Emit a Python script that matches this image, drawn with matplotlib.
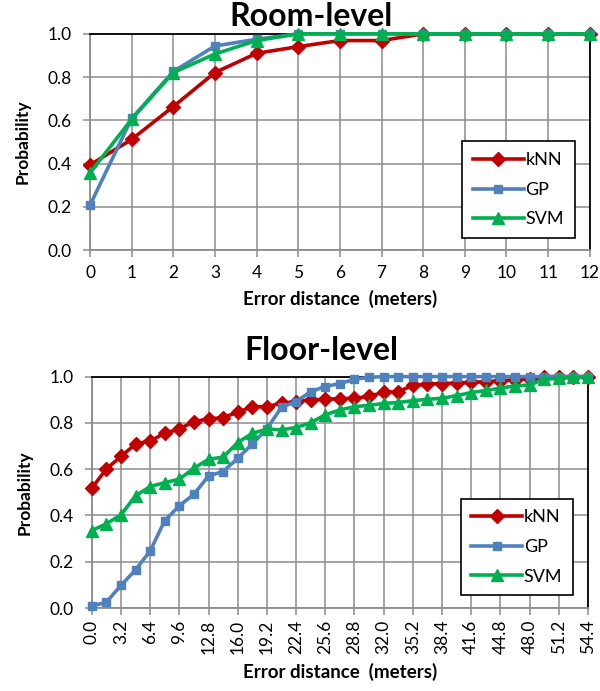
import numpy as np
import matplotlib
matplotlib.use("Agg")
import matplotlib.pyplot as plt

plt.rcParams['font.family'] = ['Lato', 'DejaVu Sans']

# Room-level data (error distance in meters, 0..12)
room_x = list(range(0, 13))
room_knn = [0.394, 0.512, 0.664, 0.821, 0.910, 0.941, 0.969, 0.969, 1.0, 1.0, 1.0, 1.0, 1.0]
room_gp = [0.208, 0.609, 0.826, 0.944, 0.975, 1.0, 1.0, 1.0, 1.0, 1.0, 1.0, 1.0, 1.0]
room_svm = [0.358, 0.605, 0.821, 0.907, 0.969, 1.0, 1.0, 1.0, 1.0, 1.0, 1.0, 1.0, 1.0]

# Floor-level data (error distance 0.0..54.4 step 1.6)
floor_x = [round(1.6 * i, 1) for i in range(35)]
floor_knn = [0.518, 0.601, 0.655, 0.709, 0.722, 0.755, 0.774, 0.806, 0.817,
             0.823, 0.846, 0.870, 0.870, 0.885, 0.892, 0.899, 0.902, 0.905,
             0.906, 0.915, 0.932, 0.935, 0.962, 0.968, 0.970, 0.972, 0.975,
             0.978, 0.982, 0.986, 0.990, 1.0, 1.0, 1.0, 1.0]
floor_gp = [0.008, 0.026, 0.098, 0.165, 0.247, 0.378, 0.442, 0.492, 0.571,
            0.590, 0.647, 0.709, 0.775, 0.868, 0.892, 0.935, 0.957, 0.970,
            0.988, 0.997, 1.0, 1.0, 1.0, 1.0, 1.0, 1.0, 1.0, 1.0, 1.0, 1.0,
            1.0, 1.0, 1.0, 1.0, 1.0]
floor_svm = [0.335, 0.364, 0.403, 0.485, 0.525, 0.542, 0.557, 0.604, 0.643,
             0.652, 0.715, 0.755, 0.773, 0.770, 0.780, 0.801, 0.835, 0.856,
             0.870, 0.876, 0.884, 0.888, 0.896, 0.902, 0.906, 0.918, 0.931,
             0.940, 0.950, 0.960, 0.964, 0.988, 0.993, 0.997, 0.997]

series = [("kNN", "#C00000", "D", 7), ("GP", "#4F81BD", "s", 6), ("SVM", "#00B050", "^", 8)]
grid_color = "#8c8c8c"


def style_axes(ax):
    ax.set_ylim(0, 1.0)
    ax.set_yticks(np.arange(0, 1.01, 0.2))
    ax.set_yticklabels([f"{v:.1f}" for v in np.arange(0, 1.01, 0.2)], fontsize=12.5)
    ax.grid(True, color=grid_color, linewidth=1.1)
    ax.set_axisbelow(True)
    for side in ("left", "bottom"):
        ax.spines[side].set_color(grid_color)
        ax.spines[side].set_linewidth(1.3)
    for side in ("top", "right"):
        ax.spines[side].set_color("black")
        ax.spines[side].set_linewidth(1.3)
    ax.tick_params(axis="both", direction="out", length=5, color=grid_color, width=1.1)
    ax.tick_params(axis="y", pad=8)
    ax.set_ylabel("Probability", fontsize=12.5, fontweight="bold", labelpad=12)
    leg = ax.legend(loc="lower right", bbox_to_anchor=(0.97, 0.055), fancybox=False,
                    edgecolor="black", framealpha=1, fontsize=13, handlelength=2.8,
                    labelspacing=0.75, borderpad=0.6, handletextpad=0.1,
                    borderaxespad=0)
    leg.get_frame().set_linewidth(1.2)


fig = plt.figure(figsize=(6.0, 6.91), dpi=100)

# Room-level
ax1 = fig.add_axes([0.150, 0.638, 0.833, 0.313])
for (name, color, marker, ms), ys in zip(series, [room_knn, room_gp, room_svm]):
    ax1.plot(room_x, ys, color=color, marker=marker, markersize=ms, linewidth=2.6,
             label=name, clip_on=False, zorder=3)
ax1.set_xlim(0, 12)
ax1.set_xticks(room_x)
ax1.set_xticklabels([str(v) for v in room_x], fontsize=12.5)
ax1.tick_params(axis="x", pad=6)
style_axes(ax1)
ax1.set_xlabel("Error distance  (meters)", fontsize=13.5, fontweight="bold", labelpad=6)
fig.text(311 / 600, 1 - 17 / 691, "Room-level", ha="center", va="center",
         fontsize=23, fontweight="bold")

# Floor-level
ax2 = fig.add_axes([0.153, 0.120, 0.827, 0.335])
for (name, color, marker, ms), ys in zip(series, [floor_knn, floor_gp, floor_svm]):
    ax2.plot(floor_x, ys, color=color, marker=marker, markersize=ms, linewidth=2.6,
             label=name, clip_on=False, zorder=3)
ax2.set_xlim(0, 54.4)
tick_vals = floor_x[::2]
ax2.set_xticks(tick_vals)
ax2.set_xticklabels([f"{v:.1f}" for v in tick_vals], rotation=90, fontsize=12.5)
style_axes(ax2)
ax2.set_xlabel("Error distance  (meters)", fontsize=13.5, fontweight="bold", labelpad=6)
fig.text(321 / 600, 1 - 351 / 691, "Floor-level", ha="center", va="center",
         fontsize=23, fontweight="bold")

fig.savefig("out.png", dpi=100)
